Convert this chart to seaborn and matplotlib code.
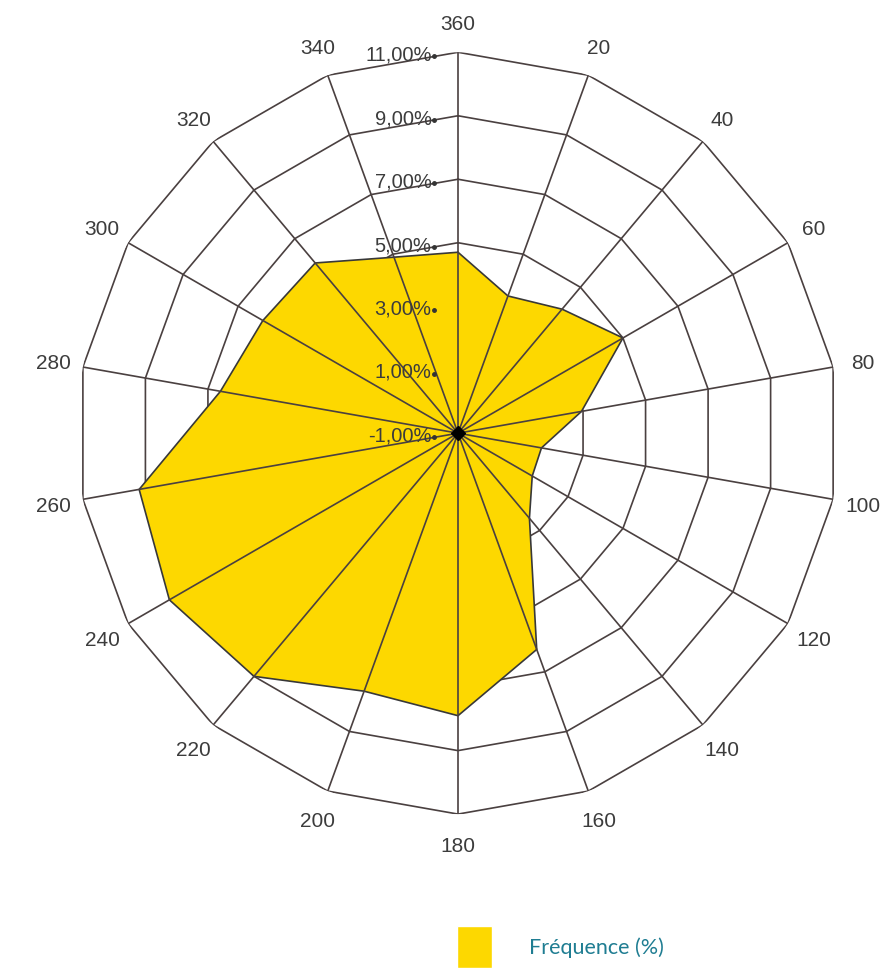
# Wind rose style radar chart: frequency by direction
import numpy as np
import pandas as pd
import matplotlib
matplotlib.use('Agg')
import matplotlib.pyplot as plt
from matplotlib.patches import Patch
from matplotlib.transforms import offset_copy
import seaborn as sns

# Data
directions = [0, 20, 40, 60, 80, 100, 120, 140, 160, 180,
              200, 220, 240, 260, 280, 300, 320, 340]
direction_labels = ['360', '20', '40', '60', '80', '100', '120', '140', '160', '180',
                    '200', '220', '240', '260', '280', '300', '320', '340']
frequency = [4.7, 3.6, 4.1, 5.0, 2.95, 1.67, 1.7, 2.5, 6.25, 7.9,
             7.65, 9.0, 9.5, 9.2, 6.6, 6.1, 6.0, 4.9]
ring_values = [-1, 1, 3, 5, 7, 9, 11]
ring_labels = ['-1,00%', '1,00%', '3,00%', '5,00%', '7,00%', '9,00%', '11,00%']

# Closed polygon table
df = pd.DataFrame({'theta': np.deg2rad(directions + [360]),
                   'freq': frequency + [frequency[0]]})

# Style
sns.set_style('white')
plt.rcParams['font.family'] = ['Liberation Sans', 'DejaVu Sans']

grid_color = '#4a4040'
fill_color = '#FDD800'
text_color = '#3c3c3c'

fig = plt.figure(figsize=(8.83, 9.68), dpi=100)
ax = fig.add_axes([0.0872, 0.159, 0.863, 0.787], projection='polar')
ax.set_theta_zero_location('N')
ax.set_theta_direction(-1)
ax.set_ylim(ring_values[0], ring_values[-1])
ax.grid(False)
ax.set_xticks([])
ax.set_yticks([])
ax.spines['polar'].set_visible(False)

# Polygonal rings
for r in ring_values[1:]:
    ax.plot(df['theta'], [r] * len(df), color=grid_color, lw=1.2, zorder=1)

# Filled frequency polygon and its outline
ax.fill(df['theta'], df['freq'], color=fill_color, lw=0, zorder=2)
sns.lineplot(data=df, x='theta', y='freq', sort=False, ax=ax,
             color='#383838', lw=1.2, zorder=3)
ax.set_xlabel('')
ax.set_ylabel('')

# Spokes
for t in df['theta'][:-1]:
    ax.plot([t, t], [ring_values[0], ring_values[-1]], color=grid_color, lw=1.2, zorder=4)

# Centre marker
ax.plot(0, ring_values[0], marker='D', ms=7, color='black', zorder=6)

# Radial labels, set a little left of the north spoke
dot_trans = offset_copy(ax.transData, fig=fig, x=-24, y=-4, units='dots')
for r, lab in zip(ring_values, ring_labels):
    ax.plot(0, r, marker='o', ms=2.5, color='#333333', zorder=5, transform=dot_trans)
    ax.annotate(lab, xy=(0, r), xytext=(-19, -2), textcoords='offset points',
                ha='right', va='center', fontsize=14.5, color=text_color, zorder=6)

# Direction labels outside the outer ring
for t, lab in zip(df['theta'][:-1], direction_labels):
    ax.text(t, 11.95, lab, ha='center', va='center_baseline', fontsize=15, color=text_color)

# Legend at the bottom
fig.legend(handles=[Patch(facecolor=fill_color, label='Fréquence (%)')],
           loc='lower left', bbox_to_anchor=(0.517, 0.0), frameon=False,
           prop={'family': 'Lato', 'size': 15.5}, labelcolor='#1f7d92',
           handlelength=1.63, handleheight=2.6, handletextpad=1.75,
           borderpad=0, borderaxespad=0)

fig.savefig('out.png', dpi=100)
